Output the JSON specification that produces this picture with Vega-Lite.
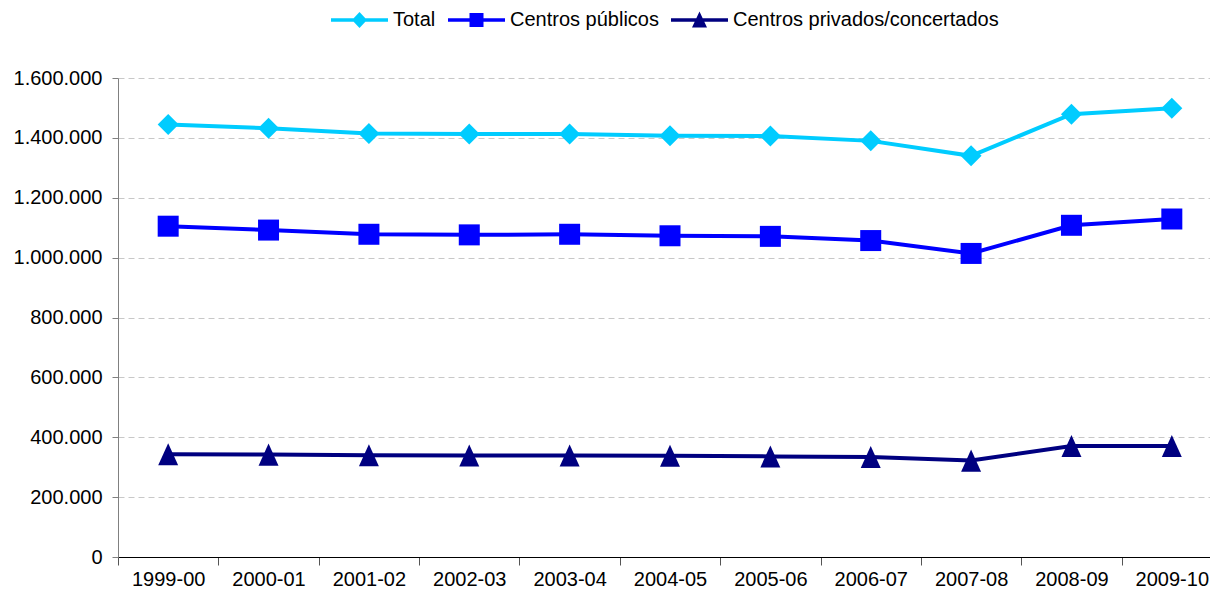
{
  "$schema": "https://vega.github.io/schema/vega-lite/v6.json",
  "width": 1092,
  "height": 479,
  "autosize": {"type": "none"},
  "padding": {"left": 118, "top": 78, "right": 0, "bottom": 39},
  "background": "white",
  "config": {
    "locale": {"number": {"decimal": ",", "thousands": ".", "grouping": [3], "currency": ["", " €"]}},
    "view": {"stroke": null},
    "font": "Liberation Sans"
  },
  "data": {
    "values": [
      {"curso": "1999-00", "serie": "Total", "alumnos": 1445000},
      {"curso": "2000-01", "serie": "Total", "alumnos": 1432000},
      {"curso": "2001-02", "serie": "Total", "alumnos": 1415000},
      {"curso": "2002-03", "serie": "Total", "alumnos": 1413000},
      {"curso": "2003-04", "serie": "Total", "alumnos": 1413000},
      {"curso": "2004-05", "serie": "Total", "alumnos": 1407000},
      {"curso": "2005-06", "serie": "Total", "alumnos": 1406000},
      {"curso": "2006-07", "serie": "Total", "alumnos": 1390000},
      {"curso": "2007-08", "serie": "Total", "alumnos": 1340000},
      {"curso": "2008-09", "serie": "Total", "alumnos": 1479000},
      {"curso": "2009-10", "serie": "Total", "alumnos": 1499000},
      {"curso": "1999-00", "serie": "Centros públicos", "alumnos": 1105000},
      {"curso": "2000-01", "serie": "Centros públicos", "alumnos": 1092000},
      {"curso": "2001-02", "serie": "Centros públicos", "alumnos": 1078000},
      {"curso": "2002-03", "serie": "Centros públicos", "alumnos": 1076000},
      {"curso": "2003-04", "serie": "Centros públicos", "alumnos": 1078000},
      {"curso": "2004-05", "serie": "Centros públicos", "alumnos": 1073000},
      {"curso": "2005-06", "serie": "Centros públicos", "alumnos": 1071000},
      {"curso": "2006-07", "serie": "Centros públicos", "alumnos": 1057000},
      {"curso": "2007-08", "serie": "Centros públicos", "alumnos": 1014000},
      {"curso": "2008-09", "serie": "Centros públicos", "alumnos": 1108000},
      {"curso": "2009-10", "serie": "Centros públicos", "alumnos": 1129000},
      {"curso": "1999-00", "serie": "Centros privados/concertados", "alumnos": 343000},
      {"curso": "2000-01", "serie": "Centros privados/concertados", "alumnos": 342000},
      {"curso": "2001-02", "serie": "Centros privados/concertados", "alumnos": 340000},
      {"curso": "2002-03", "serie": "Centros privados/concertados", "alumnos": 339000},
      {"curso": "2003-04", "serie": "Centros privados/concertados", "alumnos": 339000},
      {"curso": "2004-05", "serie": "Centros privados/concertados", "alumnos": 338000},
      {"curso": "2005-06", "serie": "Centros privados/concertados", "alumnos": 336000},
      {"curso": "2006-07", "serie": "Centros privados/concertados", "alumnos": 334000},
      {"curso": "2007-08", "serie": "Centros privados/concertados", "alumnos": 322000},
      {"curso": "2008-09", "serie": "Centros privados/concertados", "alumnos": 371000},
      {"curso": "2009-10", "serie": "Centros privados/concertados", "alumnos": 371000}
    ]
  },
  "encoding": {
    "x": {
      "field": "curso",
      "type": "ordinal",
      "scale": {"type": "band", "paddingInner": 0, "paddingOuter": 0, "range": [0, 1104]},
      "axis": {
        "title": null,
        "labelAngle": 0,
        "labelFontSize": 20,
        "labelColor": "#000000",
        "labelPadding": 4,
        "tickSize": 8,
        "tickBand": "extent",
        "tickColor": "#555555",
        "domainColor": "#000000",
        "grid": false
      }
    },
    "y": {
      "field": "alumnos",
      "type": "quantitative",
      "scale": {"domain": [0, 1600000], "nice": false},
      "axis": {
        "title": null,
        "values": [0, 200000, 400000, 600000, 800000, 1000000, 1200000, 1400000, 1600000],
        "format": ",d",
        "labelFontSize": 20,
        "labelColor": "#000000",
        "labelPadding": 10,
        "tickSize": 6,
        "tickColor": "#808080",
        "domainColor": "#808080",
        "grid": true,
        "gridColor": "#c8c8c8",
        "gridDash": [6, 4],
        "gridWidth": 1
      }
    }
  },
  "layer": [
    {
      "mark": {"type": "line", "strokeWidth": 4},
      "encoding": {
        "stroke": {
          "field": "serie",
          "type": "nominal",
          "scale": {"domain": ["Total", "Centros públicos", "Centros privados/concertados"], "range": ["#00CCFF", "#0000FF", "#000080"]},
          "legend": null
        }
      }
    },
    {
      "mark": {"type": "point", "filled": true, "opacity": 1, "size": 441},
      "encoding": {
        "fill": {
          "field": "serie",
          "type": "nominal",
          "scale": {"domain": ["Total", "Centros públicos", "Centros privados/concertados"], "range": ["#00CCFF", "#0000FF", "#000080"]},
          "legend": null
        },
        "shape": {
          "field": "serie",
          "type": "nominal",
          "scale": {"domain": ["Total", "Centros públicos", "Centros privados/concertados"], "range": ["diamond", "square", "M0,-1.05L0.95,1.05L-0.95,1.05Z"]},
          "legend": null
        }
      }
    },
    {
      "transform": [{"filter": "datum.alumnos < 0"}],
      "mark": {"type": "point", "filled": true, "opacity": 1},
      "encoding": {
        "color": {
          "field": "serie",
          "type": "nominal",
          "scale": {"domain": ["Total", "Centros públicos", "Centros privados/concertados"], "range": ["#00CCFF", "#0000FF", "#000080"]},
          "legend": {
            "title": null,
            "orient": "none",
            "legendX": 213,
            "legendY": -68,
            "direction": "horizontal",
            "symbolSize": 400,
            "symbolStrokeWidth": 0,
            "symbolOpacity": 1,
            "labelFontSize": 20,
            "labelColor": "#000000",
            "labelOffset": 42,
            "labelLimit": 0,
            "columnPadding": 12,
            "padding": 0
          }
        },
        "shape": {
          "field": "serie",
          "type": "nominal",
          "scale": {"domain": ["Total", "Centros públicos", "Centros privados/concertados"], "range": [
            "M-1,-0.18H4.7V0.18H-1Z M1.85,-0.8L2.6,0L1.85,0.8L1.1,0Z",
            "M-1,-0.18H4.7V0.18H-1Z M1.15,-0.7H2.55V0.7H1.15Z",
            "M-1,-0.18H4.7V0.18H-1Z M1.85,-0.85L2.6,0.75H1.1Z"
          ]},
          "legend": {
            "title": null,
            "orient": "none",
            "legendX": 213,
            "legendY": -68,
            "direction": "horizontal",
            "symbolSize": 400,
            "symbolStrokeWidth": 0,
            "symbolOpacity": 1,
            "labelFontSize": 20,
            "labelColor": "#000000",
            "labelOffset": 42,
            "labelLimit": 0,
            "columnPadding": 12,
            "padding": 0
          }
        }
      }
    }
  ],
  "resolve": {
    "scale": {"shape": "independent", "color": "independent"},
    "legend": {"shape": "independent", "color": "independent"}
  }
}
